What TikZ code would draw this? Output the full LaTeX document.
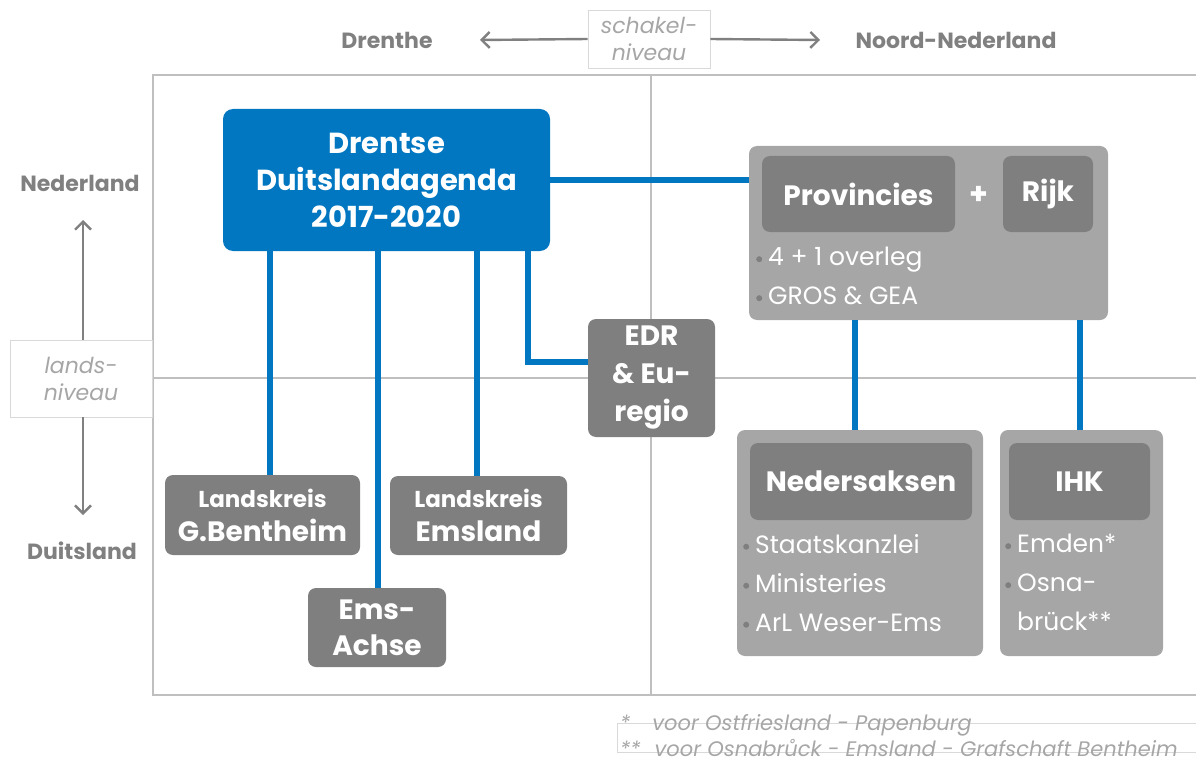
\documentclass[tikz,border=0pt]{standalone}
\usepackage{fontspec}
\setmainfont{Poppins}
\definecolor{dblue}{HTML}{0077C0}
\definecolor{lgray}{HTML}{A6A6A6}
\definecolor{dgray}{HTML}{7F7F7F}
\definecolor{fgray}{HTML}{BFBFBF}
\definecolor{tgray}{HTML}{808080}
\tikzset{
  bluebox/.style={fill=dblue, rounded corners=10pt, text=white, align=center, inner sep=0pt},
  darkbox/.style={fill=dgray, rounded corners=8pt, text=white, font=\fontsize{28}{34}\selectfont\bfseries, align=center, inner sep=0pt},
  outerbox/.style={fill=lgray, rounded corners=8pt, inner sep=0pt},
  bullets/.style={text=white, font=\fontsize{25}{39}\selectfont, align=left, anchor=north west, inner sep=0pt},
  conn/.style={draw=dblue, line width=6pt},
  frame/.style={draw=fgray, line width=2pt},
  axislabel/.style={text=tgray, font=\fontsize{22}{26}\selectfont\bfseries},
  levelbox/.style={draw=fgray!60, line width=0.6pt, text=lgray, font=\fontsize{22}{27}\selectfont\itshape, align=center, inner sep=0pt},
  axisarrow/.style={draw=tgray, line width=2.4pt, -{Straight Barb[length=8pt,width=16pt,line width=2.4pt]}},
  note/.style={text=lgray, font=\fontsize{21}{26}\selectfont\itshape, align=left, anchor=north west, inner sep=0pt}
}
\newcommand{\bul}{\tikz[baseline=-6.5pt]\fill[dgray] (0,0) circle (3pt);\hspace{6pt}}
\usetikzlibrary{arrows.meta}
\begin{document}
\begin{tikzpicture}[x=1pt,y=-1pt]
\useasboundingbox (0,0) rectangle (1196,762);
% frame
\draw[frame] (1196,75) -- (153,75) -- (153,695) -- (1196,695);
\draw[frame] (651,75) -- (651,695);
\draw[frame] (153,378) -- (1196,378);
% top axis
\node[axislabel] (drenthe) at (387,40) {Drenthe};
\node[axislabel] (noord) at (956,40) {Noord-Nederland};
\node[levelbox, minimum width=122, minimum height=58] (schakel) at (649,39) {schakel-\\niveau};
\draw[axisarrow] (schakel.west) -- (480,40);
\draw[axisarrow] (schakel.east) -- (820,40);
% left axis
\node[axislabel] (ned) at (80,183) {Nederland};
\node[axislabel] (dui) at (82,551) {Duitsland};
\node[levelbox, minimum width=142, minimum height=77] (lands) at (81,378.5) {lands-\\niveau};
\coordinate (vax) at (83,0);
\draw[axisarrow] (lands.north -| vax) -- (83,220);
\draw[axisarrow] (lands.south -| vax) -- (83,515);
% boxes
\node[bluebox, minimum width=327, minimum height=142, font=\fontsize{29}{37}\selectfont\bfseries] (agenda) at (386.5,180) {Drentse\\Duitslandagenda\\2017-2020};
\node[outerbox, minimum width=359, minimum height=174] (nl) at (928.5,233) {};
\node[darkbox, minimum width=193, minimum height=76] (prov) at (858.5,194) {Provincies};
\node[darkbox, minimum width=90, minimum height=76] (rijk) at (1048,194) {Rijk};
\node[text=white, font=\fontsize{30}{30}\selectfont\bfseries] (plus) at (979,195) {+};
\node[bullets] (nlb) at (756,247) {\bul 4 + 1 overleg\\\bul GROS \& GEA};
\node[darkbox, minimum width=195, minimum height=80] (gb) at (262.5,515) {{\fontsize{23}{28}\selectfont Landskreis}\\G.Bentheim};
\node[darkbox, minimum width=177, minimum height=79] (ems) at (478.5,515.5) {{\fontsize{23}{28}\selectfont Landskreis}\\Emsland};
\node[darkbox, minimum width=138, minimum height=79, font=\fontsize{28}{36}\selectfont\bfseries] (achse) at (377,627.5) {Ems-\\Achse};
\node[darkbox, minimum width=127, minimum height=118, font=\fontsize{28}{38}\selectfont\bfseries] (edr) at (651.5,378) {EDR\\\& Eu-\\regio};
\node[outerbox, minimum width=246, minimum height=226] (nds) at (860,543) {};
\node[darkbox, minimum width=222, minimum height=77] (ndsh) at (861,481.5) {Nedersaksen};
\node[bullets] (ndsb) at (743,534) {\bul Staatskanzlei\\\bul Ministeries\\\bul ArL Weser-Ems};
\node[outerbox, minimum width=163, minimum height=226] (ihk) at (1081.5,543) {};
\node[darkbox, minimum width=141, minimum height=77] (ihkh) at (1079.5,481.5) {IHK};
\node[bullets] (ihkb) at (1005,534) {\bul Emden*\\\bul Osna-\\\hphantom{\bul}brück**};
% connectors
\coordinate (gbk) at (270,0);
\coordinate (achk) at (378,0);
\coordinate (emsk) at (477,0);
\coordinate (edrk) at (528,0);
\coordinate (ndk) at (855,0);
\coordinate (ihkk) at (1080,0);
\draw[conn] (agenda.east) -- (agenda.east -| nl.west);
\draw[conn] (agenda.south -| gbk) -- (gb.north -| gbk);
\draw[conn] (agenda.south -| achk) -- (achse.north -| achk);
\draw[conn] (agenda.south -| emsk) -- (ems.north -| emsk);
\draw[conn] (agenda.south -| edrk) |- ([yshift=16pt]edr.west);
\draw[conn] (nl.south -| ndk) -- (nds.north -| ndk);
\draw[conn] (nl.south -| ihkk) -- (ihk.north -| ihkk);
% footnotes
\draw[draw=fgray!60, line width=0.6pt] (1196,723) -- (617,723) -- (617,752) -- (1196,752);
\node[note] (fn) at (620,714) {*\hspace{22pt}voor Ostfriesland - Papenburg\\**\hspace{14pt}voor Osnabrůck - Emsland - Grafschaft Bentheim};
\end{tikzpicture}
\end{document}
